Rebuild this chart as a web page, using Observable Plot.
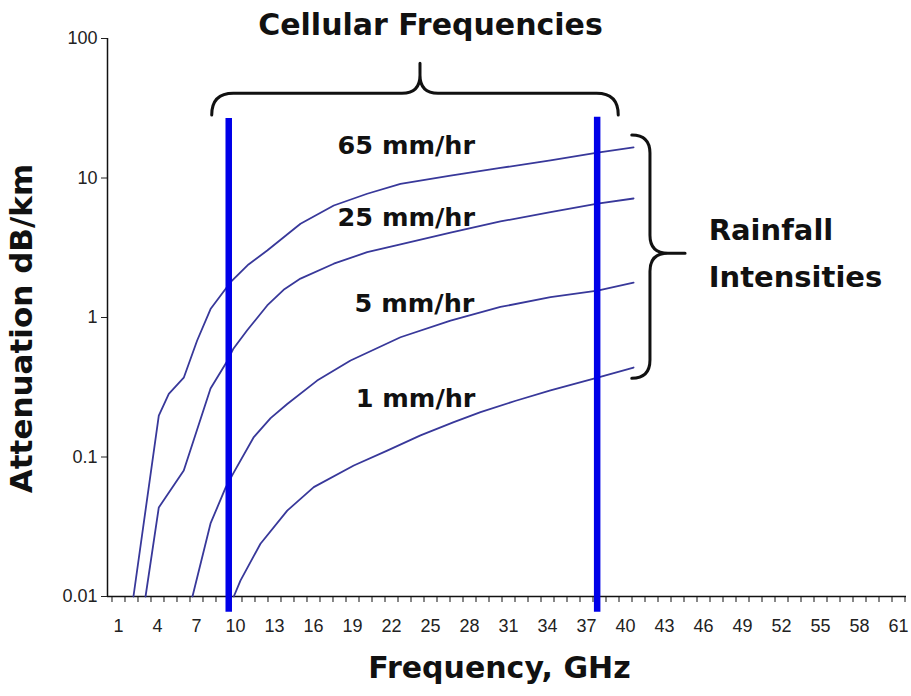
<!DOCTYPE html>
<html><head><meta charset="utf-8">
<script src="https://cdn.jsdelivr.net/npm/d3@7"></script>
<script src="https://cdn.jsdelivr.net/npm/@observablehq/plot@0.6"></script>
<style>body{margin:0;background:#fff}</style>
</head><body><div id="chart"></div>
<script>
// ---- data (frequency in GHz, attenuation in dB/km) ----
const freq65 = [2.15, 4.10, 4.87, 6.02, 7.05, 8.08, 9.62, 11.0, 12.44, 15.0, 17.56, 20.13, 22.69, 26.54, 30.38, 34.23, 37.85, 40.62];
const att65  = [0.01, 0.198, 0.284, 0.370, 0.684, 1.15, 1.79, 2.40, 3.02, 4.70, 6.35, 7.71, 9.08, 10.4, 11.8, 13.4, 15.2, 16.6];
const freq25 = [3.08, 4.10, 6.02, 8.08, 9.38, 9.85, 10.9, 12.44, 13.7, 15.0, 17.56, 20.13, 22.69, 26.54, 30.38, 34.23, 37.85, 40.62];
const att25  = [0.01, 0.0435, 0.080, 0.31, 0.49, 0.60, 0.81, 1.22, 1.58, 1.90, 2.43, 2.94, 3.35, 4.06, 4.88, 5.69, 6.56, 7.13];
const freq5  = [6.69, 8.08, 9.23, 9.85, 11.41, 12.7, 13.98, 16.28, 18.85, 22.69, 26.54, 30.38, 34.23, 37.85, 40.62];
const att5   = [0.01, 0.0334, 0.060, 0.077, 0.139, 0.190, 0.240, 0.353, 0.492, 0.722, 0.951, 1.19, 1.40, 1.56, 1.78];
const freq1  = [9.87, 10.38, 11.92, 13.98, 16.02, 19.1, 21.67, 24.23, 26.79, 28.85, 31.5, 34.23, 37.85, 40.62];
const att1   = [0.01, 0.0130, 0.0239, 0.0413, 0.0608, 0.0869, 0.111, 0.143, 0.178, 0.210, 0.252, 0.300, 0.371, 0.438];

const seriesNames = ["65 mm/hr", "25 mm/hr", "5 mm/hr", "1 mm/hr"];
const seriesFreqs = [freq65, freq25, freq5, freq1];
const seriesAtts  = [att65, att25, att5, att1];
const labelFreq   = [23.14, 23.14, 23.77, 23.85];
const labelAtt    = [17.1, 5.14, 1.25, 0.261];

// cellular band markers
const cellFreqs  = [9.48, 37.82];
const cellTop    = [26.7, 27.3];
const cellBottom = [0.0077, 0.0077];

// axis ticks
const yTicks = [0.01, 0.1, 1, 10, 100];
const xTickMarks = d3.range(0.5, 62, 1);
const xTickLabels = d3.range(1, 62, 3);

// texts
const titleText = "Cellular Frequencies";
const yLabel = "Attenuation dB/km";
const xLabel = "Frequency, GHz";
const rainText = ["Rainfall", "Intensities"];
const rainFreq = 46.4;
const rainAtt = [4.21, 1.92];

// brace anchors (data coordinates)
const topBrace = {from: 8.21, to: 39.48, tip: 24.23, end: 28.1, bar: 40.2, peak: 65.9};
const rightBrace = {end: 40.52, bar: 41.92, tip: 44.62, top: 20.2, mid: 2.87, bottom: 0.364};

const rows = seriesNames.flatMap((name, k) => seriesFreqs[k].map((f, i) => ({series: name, freq: f, att: seriesAtts[k][i]})));
const labelRows = seriesNames.map((name, k) => ({name, f: labelFreq[k], a: labelAtt[k]}));
const cellRows = cellFreqs.map((f, i) => ({f, top: cellTop[i], bottom: cellBottom[i]}));
const rainRows = rainText.map((t, i) => ({t, a: rainAtt[i]}));

const bold = {fontFamily: "DejaVu Sans", fontWeight: "bold", fill: "#111"};

const plot = Plot.plot({
  width: 911, height: 696,
  marginLeft: 107, marginRight: 5, marginTop: 38, marginBottom: 100,
  style: {fontFamily: "'Liberation Sans', Arial, sans-serif", background: "white", overflow: "visible"},
  x: {type: "linear", domain: [0.154, 61.615]},
  y: {type: "log", domain: [0.01, 100]},
  marks: [
    Plot.axisY({ticks: yTicks, tickFormat: d => String(d), tickSize: 6, tickPadding: 4, fontSize: 18, color: "#222", label: null}),
    Plot.axisX({ticks: xTickMarks, tickFormat: () => "", tickSize: 6, color: "#111", label: null}),
    Plot.axisX({ticks: xTickLabels, tickFormat: d => String(d), tickSize: 0, tickPadding: 23, fontSize: 18, color: "#222", label: null}),
    Plot.ruleX([0.154], {stroke: "#111", strokeWidth: 1.5}),
    Plot.ruleY([0.01], {stroke: "#111", strokeWidth: 1.5}),
    Plot.text(labelRows, {x: "f", y: "a", text: "name", fontSize: 25.5, textAnchor: "middle", lineAnchor: "middle", ...bold}),
    Plot.line(rows, {x: "freq", y: "att", z: "series", stroke: "#38389a", strokeWidth: 1.8, curve: "linear"}),
    Plot.ruleX(cellRows, {x: "f", y1: "bottom", y2: "top", stroke: "#0000e8", strokeWidth: 6.5, strokeLinecap: "butt"}),
    Plot.text([titleText], {x: 25.0, frameAnchor: "top", dy: -13, fontSize: 30, textAnchor: "middle", lineAnchor: "middle", ...bold}),
    Plot.text(rainRows, {x: rainFreq, y: "a", text: "t", fontSize: 29, textAnchor: "start", lineAnchor: "middle", ...bold}),
    Plot.text([yLabel], {frameAnchor: "left", dx: -85, dy: 11, rotate: -90, fontSize: 31, textAnchor: "middle", lineAnchor: "middle", ...bold}),
    Plot.text([xLabel], {frameAnchor: "bottom", dx: -7.5, dy: 71.5, fontSize: 30, textAnchor: "middle", lineAnchor: "middle", ...bold})
  ]
});

// braces drawn through the plot's own scales
const X = plot.scale("x").apply, Y = plot.scale("y").apply;
{
  const x1 = X(topBrace.from), x2 = X(topBrace.to), xc = X(topBrace.tip);
  const ye = Y(topBrace.end), yb = Y(topBrace.bar), yt = Y(topBrace.peak);
  const r = ye - yb, rc = 18;
  const d = `M${x1},${ye} Q${x1},${yb} ${x1 + r},${yb} L${xc - rc},${yb} Q${xc},${yb} ${xc},${yb - rc} L${xc},${yt} ` +
            `M${xc},${yb - rc} Q${xc},${yb} ${xc + rc},${yb} L${x2 - r},${yb} Q${x2},${yb} ${x2},${ye}`;
  d3.select(plot).append("path").attr("d", d).attr("fill", "none").attr("stroke", "#111").attr("stroke-width", 3).attr("stroke-linecap", "round");
}
{
  const xe = X(rightBrace.end), xb = X(rightBrace.bar), xt = X(rightBrace.tip);
  const yT = Y(rightBrace.top), yM = Y(rightBrace.mid), yB = Y(rightBrace.bottom);
  const r = xb - xe, rc = 18;
  const d = `M${xe},${yT} Q${xb},${yT} ${xb},${yT + r} L${xb},${yM - rc} Q${xb},${yM} ${xb + rc},${yM} L${xt},${yM} ` +
            `M${xb + rc},${yM} Q${xb},${yM} ${xb},${yM + rc} L${xb},${yB - r} Q${xb},${yB} ${xe},${yB}`;
  d3.select(plot).append("path").attr("d", d).attr("fill", "none").attr("stroke", "#111").attr("stroke-width", 3).attr("stroke-linecap", "round");
}

document.getElementById("chart").append(plot);
</script>
</body></html>
